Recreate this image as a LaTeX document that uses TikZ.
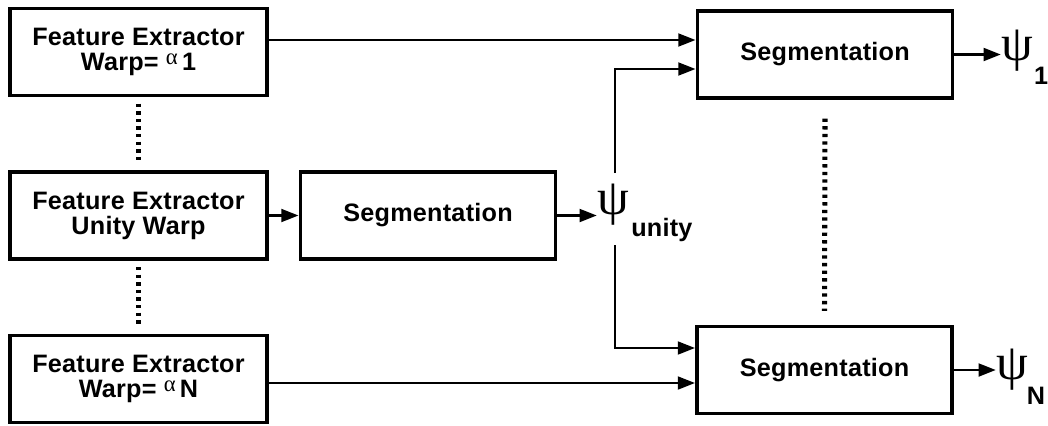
\documentclass[tikz,border=0pt]{standalone}
\usepackage{fontspec}
\setmainfont{Liberation Sans}[LetterSpace=1]
\newfontfamily\greekfont{Liberation Serif}
\usetikzlibrary{arrows.meta, calc}

\newcommand\labelfont{\fontsize{18.9}{18.75}\selectfont\bfseries}
\newcommand\alphasub[1]{\raisebox{4.5pt}{\smash{\greekfont\mdseries\fontsize{17}{17}\selectfont α}}\,#1}

\tikzset{
    % Box styles - plain black frames
    extractor/.style={
        rectangle,
        draw=black,
        line width=2.6pt,
        minimum width=192.75pt,
        minimum height=65pt,
        align=center,
        font=\labelfont
    },
    segbox/.style={
        rectangle,
        draw=black,
        line width=2.6pt,
        minimum width=191.5pt,
        minimum height=65pt,
        align=center,
        font=\labelfont
    },
    % Output symbols
    psi/.style={
        inner sep=0pt,
        font=\greekfont\fontsize{38}{38}\selectfont
    },
    subtext/.style={
        inner sep=0pt,
        font=\labelfont
    },
    % Arrow styles
    arrow/.style={
        -{Triangle[length=13pt,width=9.5pt]},
        line width=2.2pt,
        draw=black
    },
    dotline/.style={
        line width=3.8pt,
        dash pattern=on 2.5pt off 3.2pt,
        draw=black
    }
}

\begin{document}
\begin{tikzpicture}[x=0.75pt, y=-0.75pt]
    \useasboundingbox (0,0) rectangle (1048,425);

    % feature extractors
    \node[extractor] (fe1) at (138.5,52) {Feature Extractor\\Warp= \alphasub{1}};
    \node[extractor] (feu) at (138.5,215.5) {Feature Extractor\\Unity Warp};
    \node[extractor] (feN) at (138.5,379) {Feature Extractor\\Warp= \alphasub{N}};

    \draw[dotline] ($(fe1.south)+(0,6.5)$) -- ($(feu.north)+(0,-7.5)$);
    \draw[dotline] ($(feu.south)+(0,6.5)$) -- ($(feN.north)+(0,-6.5)$);

    % segmentation stages
    \node[segbox] (segm) at (428,215.5) {Segmentation};
    \node[segbox] (seg1) at (825,54.5) {Segmentation};
    \node[segbox] (segN) at (824.5,370) {Segmentation};

    \draw[dotline] ($(seg1.south)+(0,19)$) -- ($(segN.north)+(0,-14)$);

    % outputs
    \node[psi] (psiu) at (613,205) {ψ};
    \node[subtext, anchor=west] (unity) at (631,230) {unity};
    \node[psi] (psi1) at (1017,51) {ψ};
    \node[subtext] (sub1) at (1041,76) {1};
    \node[psi] (psiN) at (1012,370) {ψ};
    \node[subtext] (subN) at (1036,396) {N};

    \coordinate (tapup) at (615,173);
    \coordinate (tapdown) at (615,245);

    % connections
    \draw[arrow] ($(fe1.east)+(0,-12)$) -- ($(seg1.west)+(0,-14.5)$);
    \draw[arrow] (tapup) |- ($(seg1.west)+(0,14.5)$);
    \draw[arrow] (feu) -- (segm);
    \draw[arrow] (segm.east) -- (segm.east -| psiu.west);
    \draw[arrow] (tapdown) |- ($(segN.west)+(0,-22)$);
    \draw[arrow] ($(feN.east)+(0,4)$) -- ($(segN.west)+(0,13)$);
    \draw[arrow] (seg1.east) -- (seg1.east -| psi1.west);
    \draw[arrow] (segN.east) -- (segN.east -| psiN.west);
\end{tikzpicture}
\end{document}
